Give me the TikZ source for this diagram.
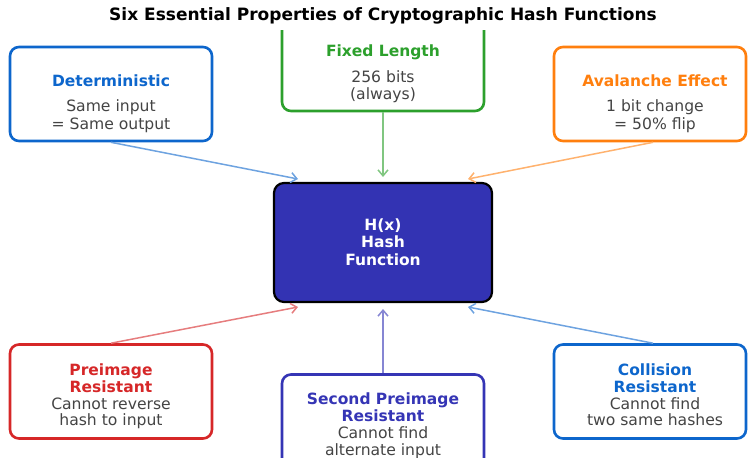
\documentclass[tikz,border=0pt]{standalone}
\usepackage{fontspec}
\setmainfont{DejaVu Sans}
\usetikzlibrary{arrows.meta}

\definecolor{pblue}{HTML}{0D66CC}
\definecolor{pgreen}{HTML}{2CA02C}
\definecolor{porange}{HTML}{FF7F0E}
\definecolor{pred}{HTML}{D62728}
\definecolor{pindigo}{HTML}{3535B5}
\definecolor{hashfill}{HTML}{3333B3}
\definecolor{txtgray}{HTML}{444444}

\begin{document}
\begin{tikzpicture}[x=1pt,y=-1pt,
  propbox/.style={draw=#1, line width=2.6pt, rounded corners=9pt, fill=white,
    inner sep=0pt, minimum width=202pt, minimum height=94pt},
  hashbox/.style={draw=black, line width=2.2pt, rounded corners=10pt, fill=hashfill,
    inner sep=0pt, minimum width=218pt, minimum height=119pt},
  ptitle/.style={anchor=base, text=#1, inner sep=0pt,
    font=\bfseries\fontsize{15.5}{17}\selectfont},
  pdesc/.style={anchor=base, text=txtgray, inner sep=0pt,
    font=\fontsize{15.6}{17}\selectfont},
  htext/.style={anchor=base, text=white, inner sep=0pt,
    font=\bfseries\fontsize{15.5}{17}\selectfont},
  conn/.style={draw=#1!60!white, line width=1.5pt,
    -{Straight Barb[length=6pt,width=10pt,line width=1.5pt]}}
]
\useasboundingbox (0,0) rectangle (748,458);

% title
\node[anchor=base, inner sep=0pt, font=\bfseries\fontsize{17}{19}\selectfont]
  (title) at (383,20) {Six Essential Properties of Cryptographic Hash Functions};

% arrow tips around the hash box
\coordinate (tipdet) at (298,179);
\coordinate (tipfix) at (383,177);
\coordinate (tipava) at (468,179);
\coordinate (tippre) at (298,307);
\coordinate (tipsec) at (383,309);
\coordinate (tipcol) at (468,307);

\begin{scope}
\clip (0,30) rectangle (748,458);

% central hash function box
\node[hashbox] (hash) at (383,242.5) {};
\node[htext] (hx) at (383,230.7) {H(x)};
\node[htext] (hh) at (383,247.5) {Hash};
\node[htext] (hf) at (383,265) {Function};

% property boxes
\node[propbox=pblue]   (det) at (111,94) {};
\node[propbox=pgreen]  (fix) at (383,64) {};
\node[propbox=porange, minimum width=192pt] (ava) at (650,94) {};
\node[propbox=pred]    (pre) at (111,391.5) {};
\node[propbox=pindigo] (sec) at (383,421.5) {};
\node[propbox=pblue, minimum width=192pt]   (col) at (650,391.5) {};

% connectors
\draw[conn=pblue]   (det.south) -- (tipdet);
\draw[conn=pgreen]  (fix.south) -- (tipfix);
\draw[conn=porange] ([xshift=3pt]ava.south) -- (tipava);
\draw[conn=pred]    (pre.north) -- (tippre);
\draw[conn=pindigo] (sec.north) -- (tipsec);
\draw[conn=pblue]   ([xshift=3pt]col.north) -- (tipcol);

% labels: top row
\node[ptitle=pblue] (detT) at (111,86) {Deterministic};
\node[pdesc] (detA) at (111,111.5) {Same input};
\node[pdesc] (detB) at (111,129.5) {= Same output};

\node[ptitle=pgreen] (fixT) at (383,56) {Fixed Length};
\node[pdesc] (fixA) at (383,82) {256 bits};
\node[pdesc] (fixB) at (383,99.5) {(always)};

\node[ptitle=porange] (avaT) at (655,86) {Avalanche Effect};
\node[pdesc] (avaA) at (655,111.5) {1 bit change};
\node[pdesc] (avaB) at (655,129.5) {= 50\% flip};

% labels: bottom row
\node[ptitle=pred] (preT1) at (111,375) {Preimage};
\node[ptitle=pred] (preT2) at (111,392.3) {Resistant};
\node[pdesc] (preA) at (111,409) {Cannot reverse};
\node[pdesc] (preB) at (111,425.5) {hash to input};

\node[ptitle=pindigo] (secT1) at (383,404.5) {Second Preimage};
\node[ptitle=pindigo] (secT2) at (383,421.8) {Resistant};
\node[pdesc] (secA) at (383,438.5) {Cannot find};
\node[pdesc] (secB) at (383,455) {alternate input};

\node[ptitle=pblue] (colT1) at (655,375) {Collision};
\node[ptitle=pblue] (colT2) at (655,392.3) {Resistant};
\node[pdesc] (colA) at (655,409) {Cannot find};
\node[pdesc] (colB) at (655,425.5) {two same hashes};
\end{scope}
\end{tikzpicture}
\end{document}
